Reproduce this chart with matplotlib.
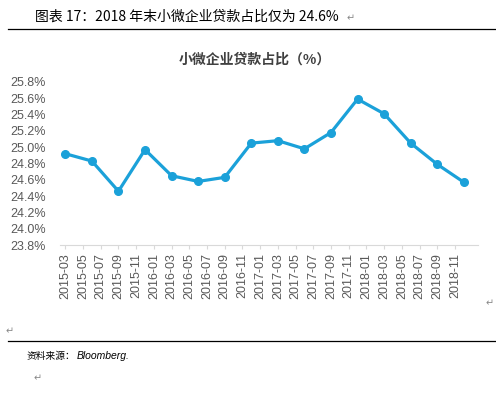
import numpy as np
import matplotlib
matplotlib.use("Agg")
from matplotlib import pyplot as plt
from matplotlib.lines import Line2D

plt.rcParams['font.family'] = ['Liberation Sans', 'Noto Sans CJK SC', 'DejaVu Sans']

# quarterly data, 2015-03 .. 2018-12
dates = ['2015-03', '2015-06', '2015-09', '2015-12',
         '2016-03', '2016-06', '2016-09', '2016-12',
         '2017-03', '2017-06', '2017-09', '2017-12',
         '2018-03', '2018-06', '2018-09', '2018-12']
share = [24.92, 24.83, 24.46, 24.97,
         24.65, 24.58, 24.63, 25.05,
         25.08, 24.98, 25.18, 25.59,
         25.41, 25.05, 24.79, 24.57]
tick_labels = ['2015-03', '2015-05', '2015-07', '2015-09', '2015-11',
               '2016-01', '2016-03', '2016-05', '2016-07', '2016-09', '2016-11',
               '2017-01', '2017-03', '2017-05', '2017-07', '2017-09', '2017-11',
               '2018-01', '2018-03', '2018-05', '2018-07', '2018-09', '2018-11']
y_ticks = [23.8, 24.0, 24.2, 24.4, 24.6, 24.8, 25.0, 25.2, 25.4, 25.6, 25.8]


def month_index(s):
    y, m = s.split('-')
    return (int(y) - 2015) * 12 + int(m) - 3


x = [month_index(d) for d in dates]
xt = [month_index(d) for d in tick_labels]

fig = plt.figure(figsize=(4.96, 3.93), dpi=100)
ax = fig.add_axes([60 / 496, 1 - 245 / 393, 418 / 496, (245 - 82) / 393])

ax.plot(x, share, color='#1BA1D9', lw=2.3, marker='o', ms=5.5,
        solid_joinstyle='round')

ax.set_xlim(-0.6, 46.6)
ax.set_ylim(23.8, 25.8)
ax.set_yticks(y_ticks)
ax.set_yticklabels(['%.1f%%' % v for v in y_ticks], fontsize=9, color='#595959')
ax.set_xticks(xt)
ax.set_xticklabels(tick_labels, rotation=90, fontsize=9, color='#595959')
ax.tick_params(axis='y', length=0, pad=10)
ax.tick_params(axis='x', length=3, color='#D9D9D9', pad=3)

for side in ['top', 'right', 'left']:
    ax.spines[side].set_visible(False)
ax.spines['bottom'].set_color('#D9D9D9')

# page text around the chart
fig.text(35 / 496, 1 - 17 / 393, '图表 17：2018 年末小微企业贷款占比仅为 24.6%',
         fontsize=10, va='center', ha='left',
         family=['Noto Sans CJK SC', 'DejaVu Sans'])
fig.text(347 / 496, 1 - 18 / 393, '↵', fontsize=7, color='#888888',
         va='center', family='DejaVu Sans')
fig.add_artist(Line2D([8 / 496, 1], [1 - 29 / 393] * 2, color='black', lw=0.9))

fig.text(255 / 496, 1 - 60 / 393, '小微企业贷款占比（%）', fontsize=10,
         fontweight='bold', ha='center', va='center', color='#404040',
         family=['Noto Sans CJK SC', 'DejaVu Sans'])

fig.text(490 / 496, 1 - 303 / 393, '↵', fontsize=7, color='#888888',
         va='center', ha='center', family='DejaVu Sans')
fig.text(10 / 496, 1 - 331 / 393, '↵', fontsize=7, color='#888888',
         va='center', ha='center', family='DejaVu Sans')
fig.add_artist(Line2D([8 / 496, 1], [1 - 341 / 393] * 2, color='black', lw=0.9))

fig.text(27 / 496, 1 - 356 / 393, '资料来源：', fontsize=7, style='italic',
         va='center', ha='left', family=['Noto Sans CJK SC', 'DejaVu Sans'])
fig.text(77 / 496, 1 - 356 / 393, 'Bloomberg.', fontsize=7.5, style='italic',
         va='center', ha='left')
fig.text(38 / 496, 1 - 378 / 393, '↵', fontsize=7, color='#888888',
         va='center', ha='center', family='DejaVu Sans')

fig.savefig('out.png', dpi=100)
